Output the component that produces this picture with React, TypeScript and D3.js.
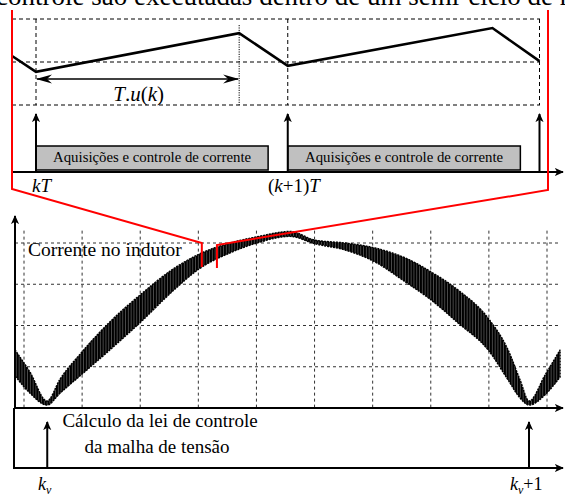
import React from "react";
import * as d3 from "d3";

const W = 565;
const H = 496;

// ---- Switching-period detail (time in periods T, current in grid units) ----
const sampleTicks = [0, 1, 2];
const dutyCycle = 0.807;
const rippleTime = [-0.095, 0, 0.807, 1, 1.813, 2];
const rippleValue = [1.14, 0.77, 1.67, 0.91, 1.79, 1.02];
const refLevels = [0, 1, 2];
const taskStart = [0, 1];
const taskEnd = [0.922, 1.924];
const taskLabel = "Aquisições e controle de corrente";

// ---- Line half-cycle view (time in ms, current in grid divisions) ----
const lineTime = [
  -0.155, 0.103, 0.396, 0.62, 0.998, 1.48, 2.014, 2.565, 3.012, 3.546, 4.01,
  4.578, 5.009, 5.525, 6.041, 6.558, 7.005, 7.47, 7.986, 8.33, 8.537, 8.692,
  8.967, 9.225,
];
const envUpper = [
  1.41, 0.87, 0.17, 0.7, 1.36, 2.09, 2.76, 3.37, 3.73, 4.0, 4.15, 4.28, 4.07,
  4.0, 3.88, 3.64, 3.3, 2.86, 2.18, 1.41, 0.68, 0.17, 0.8, 1.41,
];
const envLower = [
  0.78, 0.36, 0.07, 0.36, 0.82, 1.41, 2.09, 2.84, 3.37, 3.76, 4.0, 4.16, 3.98,
  3.83, 3.54, 3.06, 2.62, 2.06, 1.41, 0.68, 0.24, 0.07, 0.32, 0.75,
];
const gridTimes = [0, 1, 2, 3, 4, 5, 6, 7, 8, 9];
const gridLevels = [1, 2, 3, 4];
const voltageSamples = [0.4, 8.69];
const zoomWindow = [3.06, 3.32];

const serif = "Liberation Serif, Times New Roman, DejaVu Serif, serif";
const txt: React.CSSProperties = { fontFamily: serif };

export default function App() {
  // scales for the upper (period) diagram
  const xT = d3.scaleLinear().domain([0, 2]).range([36, 539.5]);
  const yT = d3.scaleLinear().domain([0, 2]).range([105, 19]);
  // scales for the lower (line-cycle) chart
  const xL = d3.scaleLinear().domain([0, 9]).range([24, 547]);
  const yL = d3.scaleLinear().domain([0, 4]).range([408, 243]);

  const rippleLine = d3
    .line<number>()
    .x((_, i) => xT(rippleTime[i]))
    .y((v) => yT(v));

  const band = d3
    .area<number>()
    .x((t) => xL(t))
    .y0((_, i) => yL(envLower[i]))
    .y1((_, i) => yL(envUpper[i]))
    .curve(d3.curveMonotoneX);

  const axisY = 172;
  const leftX = 12;
  const rightX = 540;
  const zl = xL(zoomWindow[0]);
  const zr = xL(zoomWindow[1]);

  return (
    <svg
      width={W}
      height={H}
      style={{ position: "absolute", left: 0, top: 0, background: "#fff", fontFamily: serif }}
    >
      <defs>
        <marker
          id="ah"
          viewBox="0 -5 10 10"
          refX={9}
          refY={0}
          markerWidth={9}
          markerHeight={9}
          markerUnits="userSpaceOnUse"
          orient="auto"
        >
          <path d="M0,-4.5L10,0L0,4.5L2.5,0Z" fill="#000" />
        </marker>
        <marker
          id="ahBig"
          viewBox="0 -5 16 10"
          refX={15}
          refY={0}
          markerWidth={16}
          markerHeight={10}
          markerUnits="userSpaceOnUse"
          orient="auto-start-reverse"
        >
          <path d="M0,-4.5L16,0L0,4.5L5,0Z" fill="#000" />
        </marker>
        {/* switching ripple texture for the current band */}
        <pattern id="ripple" width={2.8} height={6} patternUnits="userSpaceOnUse">
          <rect width={2.8} height={6} fill="#000" />
          <rect x={1.9} width={0.5} height={6} fill="#8c8c8c" />
        </pattern>
      </defs>

      {/* heading line, partly above the frame */}
      <text x={-4} y={5} fontSize={27} fill="#000" style={txt}>
        controle são executadas dentro de um semi-ciclo de rede
      </text>

      {/* reference dashed levels of the period view */}
      {refLevels.map((v) => (
        <line
          key={"h" + v}
          x1={leftX}
          x2={rightX}
          y1={yT(v)}
          y2={yT(v)}
          stroke="#000"
          strokeWidth={1}
          strokeDasharray="4,3"
        />
      ))}
      {sampleTicks.map((t) => (
        <line
          key={"v" + t}
          x1={xT(t)}
          x2={xT(t)}
          y1={yT(2)}
          y2={yT(0)}
          stroke="#000"
          strokeWidth={1}
          strokeDasharray="4,3"
        />
      ))}
      <line
        x1={xT(dutyCycle)}
        x2={xT(dutyCycle)}
        y1={25}
        y2={yT(0)}
        stroke="#000"
        strokeWidth={1}
        strokeDasharray="1.2,1.2"
      />

      {/* inductor current over two switching periods */}
      <path
        d={rippleLine(rippleValue) || ""}
        fill="none"
        stroke="#000"
        strokeWidth={2.6}
        strokeLinejoin="miter"
      />

      {/* on-time span */}
      <line
        x1={xT(0) + 1}
        x2={xT(dutyCycle) - 1}
        y1={79}
        y2={79}
        stroke="#000"
        strokeWidth={1.6}
        markerStart="url(#ahBig)"
        markerEnd="url(#ahBig)"
      />
      <text
        x={(xT(0) + xT(dutyCycle)) / 2 + 1}
        y={101}
        fontSize={21}
        textAnchor="middle"
        fill="#000"
        style={txt}
      >
        <tspan fontStyle="italic">T</tspan>.<tspan fontStyle="italic">u</tspan>(
        <tspan fontStyle="italic">k</tspan>)
      </text>

      {/* task blocks */}
      {taskStart.map((s, i) => (
        <g key={"task" + i}>
          <rect
            x={xT(s)}
            y={146}
            width={xT(taskEnd[i]) - xT(s)}
            height={axisY - 146 - 2}
            fill="#c0c0c0"
            stroke="#000"
            strokeWidth={1.5}
          />
          <text
            x={(xT(s) + xT(taskEnd[i])) / 2}
            y={162}
            fontSize={14.8}
            textAnchor="middle"
            fill="#000"
            style={txt}
          >
            {taskLabel}
          </text>
        </g>
      ))}

      {/* sampling arrows */}
      {sampleTicks.map((t) => (
        <line
          key={"a" + t}
          x1={xT(t)}
          x2={xT(t)}
          y1={axisY}
          y2={114}
          stroke="#000"
          strokeWidth={2}
          markerEnd="url(#ah)"
        />
      ))}

      {/* period time axis */}
      <line
        x1={leftX}
        x2={563}
        y1={axisY}
        y2={axisY}
        stroke="#000"
        strokeWidth={2}
        markerEnd="url(#ah)"
      />
      <text x={32} y={192} fontSize={19} fill="#000" fontStyle="italic" style={txt}>
        kT
      </text>
      <text x={268} y={192} fontSize={19} fill="#000" style={txt}>
        (<tspan fontStyle="italic">k</tspan>+1)<tspan fontStyle="italic">T</tspan>
      </text>

      {/* ---- line-cycle chart ---- */}
      {gridTimes.map((t) => (
        <line
          key={"gx" + t}
          x1={xL(t)}
          x2={xL(t)}
          y1={yL(4.3)}
          y2={yL(0)}
          stroke="#333"
          strokeWidth={1}
          strokeDasharray="3,3"
        />
      ))}
      {gridLevels.map((v) => (
        <line
          key={"gy" + v}
          x1={15}
          x2={560}
          y1={yL(v)}
          y2={yL(v)}
          stroke="#333"
          strokeWidth={1}
          strokeDasharray="3,3"
        />
      ))}

      {/* inductor current envelope */}
      <path
        d={band(lineTime) || ""}
        fill="url(#ripple)"
        stroke="#000"
        strokeWidth={1.4}
        strokeDasharray="2,1"
      />

      {/* axes */}
      <line
        x1={15}
        x2={15}
        y1={yL(0)}
        y2={216}
        stroke="#000"
        strokeWidth={2}
        markerEnd="url(#ah)"
      />
      <line
        x1={15}
        x2={563}
        y1={yL(0)}
        y2={yL(0)}
        stroke="#000"
        strokeWidth={2}
        markerEnd="url(#ah)"
      />
      <text x={28} y={256} fontSize={19.5} fill="#000" style={txt}>
        Corrente no indutor
      </text>

      {/* voltage loop task timeline */}
      <line x1={14} x2={14} y1={yL(0)} y2={468} stroke="#000" strokeWidth={2} />
      <line
        x1={13}
        x2={563}
        y1={468}
        y2={468}
        stroke="#000"
        strokeWidth={2}
        markerEnd="url(#ah)"
      />
      {voltageSamples.map((t) => (
        <line
          key={"vs" + t}
          x1={xL(t)}
          x2={xL(t)}
          y1={468}
          y2={422}
          stroke="#000"
          strokeWidth={2}
          markerEnd="url(#ah)"
        />
      ))}
      <text x={160} y={427} fontSize={19} textAnchor="middle" fill="#000" style={txt}>
        Cálculo da lei de controle
      </text>
      <text x={157} y={453} fontSize={19} textAnchor="middle" fill="#000" style={txt}>
        da malha de tensão
      </text>
      <text x={38} y={490} fontSize={18} fill="#000" style={txt}>
        <tspan fontStyle="italic">k</tspan>
        <tspan fontStyle="italic" fontSize={12} dy={4}>
          v
        </tspan>
      </text>
      <text x={510} y={490} fontSize={18} fill="#000" style={txt}>
        <tspan fontStyle="italic">k</tspan>
        <tspan fontStyle="italic" fontSize={12} dy={4}>
          v
        </tspan>
        <tspan dy={-4}>+1</tspan>
      </text>

      {/* zoom connector */}
      <path
        d={`M${leftX},10 L${leftX},189 L${zl},243 L${zl},267`}
        fill="none"
        stroke="#ff0000"
        strokeWidth={2}
      />
      <path
        d={`M548,10 L548,190 L${zr},245 L${zr},268`}
        fill="none"
        stroke="#ff0000"
        strokeWidth={2}
      />
    </svg>
  );
}
